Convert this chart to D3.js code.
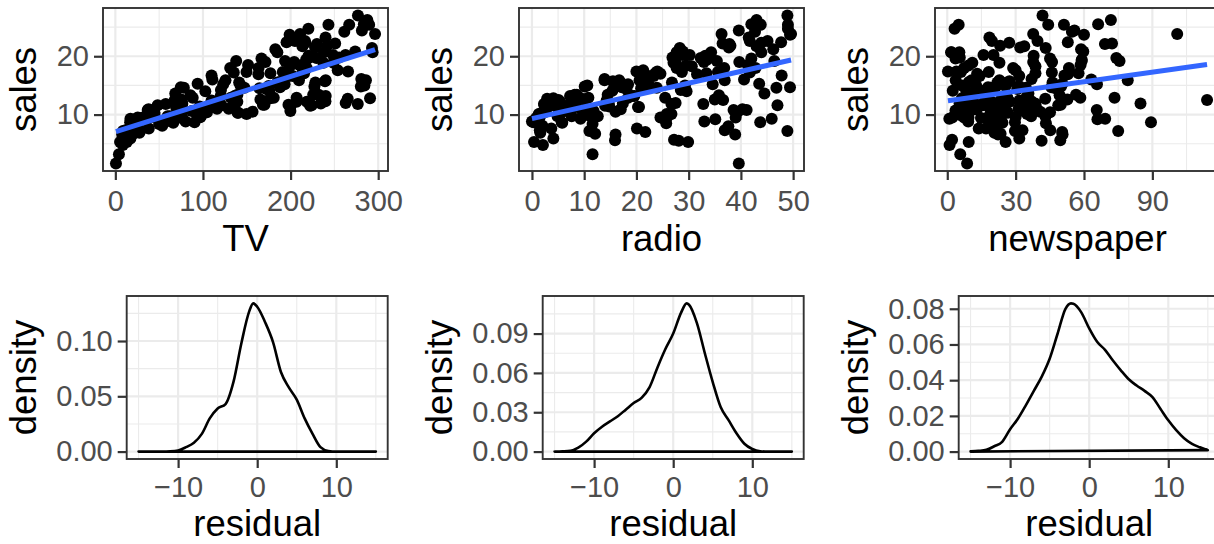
<!DOCTYPE html>
<html>
<head>
<meta charset="utf-8">
<script src="https://cdn.jsdelivr.net/npm/d3@7"></script>
<style>
  body { margin: 0; background: #fff; }
  svg text { font-family: "Liberation Sans", Arial, Helvetica, sans-serif; }
</style>
</head>
<body>
<script>
// Advertising data (200 markets)
const tv = [230.1,44.5,17.2,151.5,180.8,8.7,57.5,120.2,8.6,199.8,66.1,214.7,23.8,97.5,204.1,195.4,67.8,281.4,69.2,147.3,
  218.4,237.4,13.2,228.3,62.3,262.9,142.9,240.1,248.8,70.6,292.9,112.9,97.2,265.6,95.7,290.7,266.9,74.7,43.1,228,
  202.5,177,293.6,206.9,25.1,175.1,89.7,239.9,227.2,66.9,199.8,100.4,216.4,182.6,262.7,198.9,7.3,136.2,210.8,210.7,
  53.5,261.3,239.3,102.7,131.1,69,31.5,139.3,237.4,216.8,199.1,109.8,26.8,129.4,213.4,16.9,27.5,120.5,5.4,116,
  76.4,239.8,75.3,68.4,213.5,193.2,76.3,110.7,88.3,109.8,134.3,28.6,217.7,250.9,107.4,163.3,197.6,184.9,289.7,135.2,
  222.4,296.4,280.2,187.9,238.2,137.9,25,90.4,13.1,255.4,225.8,241.7,175.7,209.6,78.2,75.1,139.2,76.4,125.7,19.4,
  141.3,18.8,224,123.1,229.5,87.2,7.8,80.2,220.3,59.6,0.7,265.2,8.4,219.8,36.9,48.3,25.6,273.7,43,184.9,
  73.4,193.7,220.5,104.6,96.2,140.3,240.1,243.2,38,44.7,280.7,121,197.6,171.3,187.8,4.1,93.9,149.8,11.7,131.7,
  172.5,85.7,188.4,163.5,117.2,234.5,17.9,206.8,215.4,284.3,50,164.5,19.6,168.4,222.4,276.9,248.4,170.2,276.7,165.6,
  156.6,218.5,56.2,287.6,253.8,205,139.5,191.1,286,18.7,39.5,75.5,17.2,166.8,149.7,38.2,94.2,177,283.6,232.1];
const radio = [37.8,39.3,45.9,41.3,10.8,48.9,32.8,19.6,2.1,2.6,5.8,24,35.1,7.6,32.9,47.7,36.6,39.6,20.5,23.9,
  27.7,5.1,15.9,16.9,12.6,3.5,29.3,16.7,27.1,16,28.3,17.4,1.5,20,1.4,4.1,43.8,49.4,26.7,37.7,
  22.3,33.4,27.7,8.4,25.7,22.5,9.9,41.5,15.8,11.7,3.1,9.6,41.7,46.2,28.8,49.4,28.1,19.2,49.6,29.5,
  2,42.7,15.5,29.6,42.8,9.3,24.6,14.5,27.5,43.9,30.6,14.3,33,5.7,24.6,43.7,1.6,28.5,29.9,7.7,
  26.7,4.1,20.3,44.5,43,18.4,27.5,40.6,25.5,47.8,4.9,1.5,33.5,36.5,14,31.6,3.5,21,42.3,41.7,
  4.3,36.3,10.1,17.2,34.3,46.4,11,0.3,0.4,26.9,8.2,38,15.4,20.6,46.8,35,14.3,0.8,36.9,16,
  26.8,21.7,2.4,34.6,32.3,11.8,38.9,0,49,12,39.6,2.9,27.2,33.5,38.6,47,39,28.9,25.9,43.9,
  17,35.4,33.2,5.7,14.8,1.9,7.3,49,40.3,25.8,13.9,8.4,23.3,39.7,21.1,11.6,43.5,1.3,36.9,18.4,
  18.1,35.8,18.1,36.8,14.7,3.4,37.6,5.2,23.6,10.6,11.6,20.9,20.1,7.1,3.4,48.9,30.2,7.8,2.3,10,
  2.6,5.4,5.7,43,21.3,45.1,2.1,28.7,13.9,12.1,41.1,10.8,4.1,42,35.6,3.7,4.9,9.3,42,8.6];
const newspaper = [69.2,45.1,69.3,58.5,58.4,75,23.5,11.6,1,21.2,24.2,4,65.9,7.2,46,52.9,114,55.8,18.3,19.1,
  53.4,23.5,49.6,26.2,18.3,19.5,12.6,22.9,22.9,40.8,43.2,38.6,30,0.3,7.4,8.5,5,45.7,35.1,32,
  31.6,38.7,1.8,26.4,43.3,31.5,35.7,18.5,49.9,36.8,34.6,3.6,39.6,58.7,15.9,60,41.4,16.6,37.7,9.3,
  21.4,54.7,27.3,8.4,28.9,0.9,2.2,10.2,11,27.2,38.7,31.7,19.3,31.3,13.1,89.4,20.7,14.2,9.4,23.1,
  22.3,36.9,32.5,35.6,33.8,65.7,16,63.2,73.4,51.4,9.3,33,59,72.3,10.9,52.9,5.9,22,51.2,45.9,
  49.8,100.9,21.4,17.9,5.3,59,29.7,23.2,25.6,5.5,56.5,23.2,2.4,10.7,34.5,52.7,25.6,14.8,79.2,22.3,
  46.2,50.4,15.6,12.4,74.2,25.9,50.6,9.2,3.2,43.1,8.7,43,2.1,45.1,65.6,8.5,9.3,59.7,20.5,1.7,
  12.9,75.6,37.9,34.4,38.9,9,8.7,44.3,11.9,20.6,37,48.7,14.2,37.7,9.5,5.7,50.5,24.3,45.2,34.6,
  30.7,49.3,25.6,7.4,5.4,84.8,21.6,19.4,57.6,6.4,18.4,47.4,17,12.8,13.1,41.8,20.3,35.2,23.7,17.6,
  8.3,27.4,29.7,71.8,30,19.6,26.6,18.2,3.7,23.4,5.8,6,31.6,3.6,6,13.8,8.1,6.4,66.2,8.7];
const sales = [22.1,10.4,9.3,18.5,12.9,7.2,11.8,13.2,4.8,10.6,8.6,17.4,9.2,9.7,19,22.4,12.5,24.4,11.3,14.6,
  18,12.5,5.6,15.5,9.7,12,15,15.9,18.9,10.5,21.4,11.9,9.6,17.4,9.5,12.8,25.4,14.7,10.1,21.5,
  16.6,17.1,20.7,12.9,8.5,14.9,10.6,23.2,14.8,9.7,11.4,10.7,22.6,21.2,20.2,23.7,5.5,13.2,23.8,18.4,
  8.1,24.2,15.7,14,18,9.3,9.5,13.4,18.9,22.3,18.3,12.4,8.8,11,17,8.7,6.9,14.2,5.3,11,
  11.8,12.3,11.3,13.6,21.7,15.2,12,16,12.9,16.7,11.2,7.3,19.4,22.2,11.5,16.9,11.7,15.5,25.4,17.2,
  11.7,23.8,14.8,14.7,20.7,19.2,7.2,8.7,5.3,19.8,13.4,21.8,14.1,15.9,14.6,12.6,12.2,9.4,15.9,6.6,
  15.5,7,11.6,15.2,19.7,10.6,6.6,8.8,24.7,9.7,1.6,12.7,5.7,19.6,10.8,11.6,9.5,20.8,9.6,20.7,
  10.9,19.2,20.1,10.4,11.4,10.3,13.2,25.4,10.9,10.1,16.1,11.6,16.6,19,15.6,3.2,15.3,10.1,7.3,12.9,
  14.4,13.3,14.9,18,11.9,11.9,8,12.2,17.1,15,8.4,14.5,7.6,11.7,11.5,27,20.2,11.7,11.8,12.6,
  10.5,12.2,8.7,26.2,17.6,22.6,10.3,17.3,15.9,6.7,10.8,9.9,5.9,19.6,17.3,7.6,9.7,12.8,25.5,13.4];

// tick values
const tvTicks = [0, 100, 200, 300];
const radioTicks = [0, 10, 20, 30, 40, 50];
const newspaperTicks = [0, 30, 60, 90];
const salesTicks = [10, 20];
const residualTicks = [-10, 0, 10];

// residual densities
const densTvX = [-15,-14,-13,-12,-11,-10,-9,-8,-7,-6,-5,-4,-3,-2,-1,-0.5,0,1,2,3,4,5,6,7,8,9,10,11,12,13,14,15];
const densTvY = [0,0,0,0,0.0002,0.001,0.004,0.008,0.016,0.030,0.039,0.043,0.063,0.098,0.127,0.134,0.131,0.117,0.099,0.072,
  0.058,0.047,0.030,0.016,0.004,0.0005,0,0,0,0,0,0];
const densRadioX = [-15,-14,-13,-12,-11,-10,-9,-8,-7,-6,-5,-4,-3,-2,-1,0,1,1.7,2,3,4,5,6,7,8,9,10,11,12,13,14,15];
const densRadioY = [0,0.0002,0.0006,0.003,0.0076,0.014,0.019,0.023,0.027,0.032,0.037,0.041,0.049,0.064,0.078,0.090,0.106,0.113,
  0.112,0.098,0.075,0.053,0.034,0.024,0.014,0.006,0.002,0.0003,0,0,0,0];
const densNewsX = [-15,-14,-13,-12,-11,-10,-9,-8,-7,-6,-5,-4,-3,-2.3,-2,-1,0,1,2,3,4,5,6,7,8,9,10,11,12,13,14,15];
const densNewsY = [0.0001,0.0004,0.001,0.003,0.0055,0.0125,0.0185,0.026,0.034,0.042,0.052,0.066,0.080,0.083,0.0828,0.078,
  0.069,0.0615,0.057,0.051,0.0455,0.0405,0.037,0.034,0.0305,0.024,0.0175,0.012,0.0075,0.0043,0.0024,0.0008];
const densTicks = [[0, 0.05, 0.10], [0, 0.03, 0.06, 0.09], [0, 0.02, 0.04, 0.06, 0.08]];

const W = 1214, H = 544;
const colW = 416;
const tickLen = 9;
const tickFont = 29, titleFont = 36.5;
const grid = "#EBEBEB", dark = "#333333", tickText = "#4D4D4D";

const svg = d3.select("body").append("svg")
  .attr("width", W)
  .attr("height", H);

// ggplot style 5% expansion
const expand = (ext) => {
  const d = (ext[1] - ext[0]) * 0.05;
  return [ext[0] - d, ext[1] + d];
};

// minor breaks halfway between major ones, kept inside the domain
const minors = (ticks, domain) => {
  const step = ticks[1] - ticks[0];
  const out = [];
  for (let v = ticks[0] - step / 2; v <= domain[1]; v += step) {
    if (v >= domain[0]) out.push(v);
  }
  return out;
};

const lmFit = (xs, ys) => {
  const mx = d3.mean(xs), my = d3.mean(ys);
  let sxy = 0, sxx = 0;
  xs.forEach((x, i) => { sxy += (x - mx) * (ys[i] - my); sxx += (x - mx) * (x - mx); });
  const b = sxy / sxx;
  return [my - b * mx, b];
};

function drawPanel(o) {
  const g = svg.append("g").attr("transform", `translate(${o.left},${o.top})`);
  const x = o.x.range([0, o.width]);
  const y = o.y.range([o.height, 0]);

  g.append("rect").attr("width", o.width).attr("height", o.height).attr("fill", "#fff");

  // minor grid
  g.selectAll(".vmin").data(minors(o.xTicks, x.domain())).join("line")
    .attr("x1", d => x(d)).attr("x2", d => x(d)).attr("y1", 0).attr("y2", o.height)
    .attr("stroke", grid).attr("stroke-width", 1.1);
  g.selectAll(".hmin").data(minors(o.yTicks, y.domain())).join("line")
    .attr("y1", d => y(d)).attr("y2", d => y(d)).attr("x1", 0).attr("x2", o.width)
    .attr("stroke", grid).attr("stroke-width", 1.1);
  // major grid
  g.selectAll(".vmaj").data(o.xTicks).join("line")
    .attr("x1", d => x(d)).attr("x2", d => x(d)).attr("y1", 0).attr("y2", o.height)
    .attr("stroke", grid).attr("stroke-width", 2.2);
  g.selectAll(".hmaj").data(o.yTicks).join("line")
    .attr("y1", d => y(d)).attr("y2", d => y(d)).attr("x1", 0).attr("x2", o.width)
    .attr("stroke", grid).attr("stroke-width", 2.2);

  o.draw(g, x, y);

  g.append("rect").attr("width", o.width).attr("height", o.height)
    .attr("fill", "none").attr("stroke", dark).attr("stroke-width", 1.9);

  // axes
  const xa = g.append("g").attr("transform", `translate(0,${o.height})`)
    .call(d3.axisBottom(x).tickValues(o.xTicks).tickSize(tickLen).tickPadding(o.xPad).tickFormat(o.xFmt));
  const ya = g.append("g")
    .call(d3.axisLeft(y).tickValues(o.yTicks).tickSize(tickLen).tickPadding(5).tickFormat(o.yFmt));
  [xa, ya].forEach(a => {
    a.select(".domain").remove();
    a.selectAll(".tick line").attr("stroke", dark).attr("stroke-width", 2.2);
    a.selectAll(".tick text").attr("fill", tickText).attr("font-size", tickFont)
      .attr("font-family", '"Liberation Sans", Arial, sans-serif');
  });

  // titles
  svg.append("text")
    .attr("x", o.left + o.width / 2).attr("y", o.top + o.height + o.titleGap)
    .attr("text-anchor", "middle").attr("font-size", titleFont).attr("fill", "#000")
    .text(o.xTitle);
  svg.append("text")
    .attr("transform", `translate(${o.colLeft + 36},${o.top + o.height / 2}) rotate(-90)`)
    .attr("text-anchor", "middle").attr("font-size", titleFont).attr("fill", "#000")
    .text(o.yTitle);
}

const minus = (s) => s.replace("-", "\u2212");

// top row: sales vs each medium with least squares line
const media = [
  { name: "TV", values: tv, ticks: tvTicks },
  { name: "radio", values: radio, ticks: radioTicks },
  { name: "newspaper", values: newspaper, ticks: newspaperTicks }
];

media.forEach((m, i) => {
  const fit = lmFit(m.values, sales);
  const ext = d3.extent(m.values);
  drawPanel({
    left: 103 + colW * i, top: 8, width: 285, height: 163, colLeft: colW * i,
    xPad: 10, titleGap: 80,
    x: d3.scaleLinear().domain(expand(ext)),
    y: d3.scaleLinear().domain(expand(d3.extent(sales))),
    xTicks: m.ticks, yTicks: salesTicks,
    xFmt: d3.format("d"), yFmt: d3.format("d"),
    xTitle: m.name, yTitle: "sales",
    draw: (g, x, y) => {
      g.selectAll("circle").data(m.values).join("circle")
        .attr("cx", d => x(d))
        .attr("cy", (d, j) => y(sales[j]))
        .attr("r", 6)
        .attr("fill", "#000");
      g.append("line")
        .attr("x1", x(ext[0])).attr("y1", y(fit[0] + fit[1] * ext[0]))
        .attr("x2", x(ext[1])).attr("y2", y(fit[0] + fit[1] * ext[1]))
        .attr("stroke", "#3366FF").attr("stroke-width", 5);
    }
  });
});

// bottom row: residual densities
const dens = [
  { xs: densTvX, ys: densTvY },
  { xs: densRadioX, ys: densRadioY },
  { xs: densNewsX, ys: densNewsY }
];

dens.forEach((d, i) => {
  const pts = d.xs.map((v, j) => [v, d.ys[j]]);
  drawPanel({
    left: 126.7 + colW * i, top: 296, width: 261, height: 163, colLeft: colW * i,
    xPad: 8, titleGap: 77,
    x: d3.scaleLinear().domain(expand([-15, 15])),
    y: d3.scaleLinear().domain(expand([0, d3.max(d.ys)])),
    xTicks: residualTicks, yTicks: densTicks[i],
    xFmt: v => minus(d3.format("d")(v)), yFmt: d3.format(".2f"),
    xTitle: "residual", yTitle: "density",
    draw: (g, x, y) => {
      const line = d3.line().x(p => x(p[0])).y(p => y(p[1])).curve(d3.curveMonotoneX);
      g.append("path")
        .attr("d", line(pts) + `L${x(-15)},${y(0)}Z`)
        .attr("fill", "none").attr("stroke", "#000").attr("stroke-width", 2.6)
        .attr("stroke-linejoin", "round");
    }
  });
});
</script>
</body>
</html>
